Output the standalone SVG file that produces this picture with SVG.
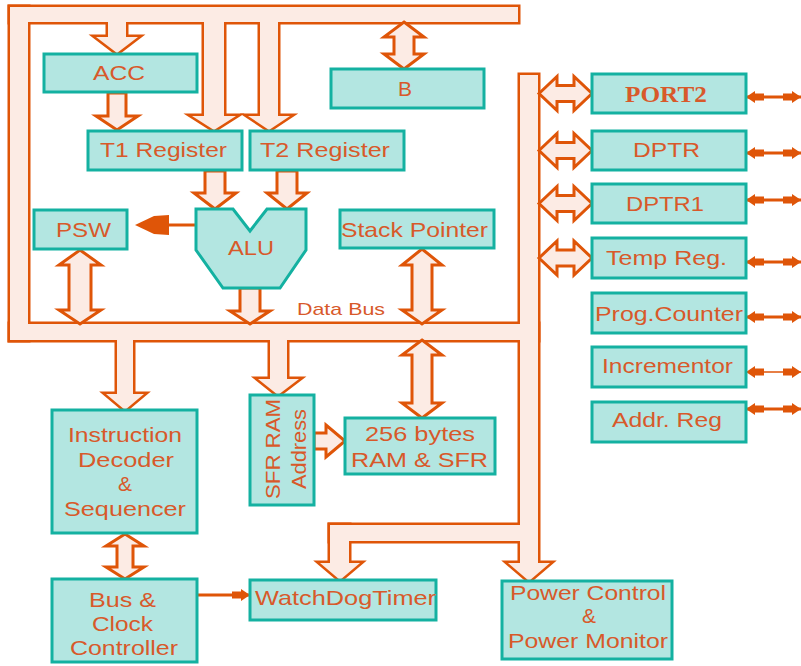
<svg xmlns="http://www.w3.org/2000/svg" xmlns:xlink="http://www.w3.org/1999/xlink" width="801" height="666" viewBox="0 0 801 666">
<style>
.box{fill:#b3e6e1;stroke:#14b1a1;stroke-width:3}
.t{font-family:"Liberation Sans",Arial,sans-serif;font-size:21px;fill:#d8592a}
.ts{font-family:"Liberation Serif","Times New Roman",serif;font-size:24px;font-weight:bold;fill:#d8592a}
.arr{fill:#fcebe4;stroke:#df5508;stroke-width:3;stroke-linejoin:miter}
.ln{stroke:#df5508;stroke-width:3;fill:none}
</style>
<defs>
<marker id="tip" markerUnits="userSpaceOnUse" markerWidth="20" markerHeight="14" refX="18" refY="7" orient="auto-start-reverse">
<path d="M18,7 L9,1 L9,3.5 L0,3.5 L0,10.5 L9,10.5 L9,13 Z" fill="#df5508"/>
</marker>
<g id="busShape">
<rect x="10" y="7" width="508" height="15"/>
<rect x="10" y="7" width="18" height="333"/>
<rect x="10" y="324" width="528" height="16"/>
<rect x="520" y="75" width="18" height="488"/>
<polygon points="508,563 550,563 529,581"/>
<rect x="330" y="525" width="190" height="16"/>
<rect x="330" y="525" width="19" height="38"/>
<polygon points="320,563 360,563 340,580"/>
<rect x="108" y="10" width="18" height="27"/>
<polygon points="96,37 138,37 117,53"/>
<rect x="204" y="10" width="20" height="106"/>
<polygon points="192,116 236,116 214,130"/>
<rect x="260" y="10" width="18" height="106"/>
<polygon points="248,116 290,116 269,130"/>
<rect x="117" y="330" width="16" height="64"/>
<polygon points="106,394 144,394 125,410"/>
<rect x="270" y="330" width="17" height="49"/>
<polygon points="258,379 299,379 278,395"/>
</g>
</defs>
<rect width="801" height="666" fill="#ffffff"/>
<g id="connectors">
<use href="#busShape" fill="#df5508" stroke="#df5508" stroke-width="5"/>
<use href="#busShape" fill="#fcebe4"/>
<text class="t" x="297" y="315" style="font-size:17px" textLength="88" lengthAdjust="spacingAndGlyphs">Data Bus</text>
<polygon class="arr" points="108,93 126,93 126,116 138,116 117,130 96,116 108,116"/>
<polygon class="arr" points="205,171 225,171 225,193 236,193 215,209 194,193 205,193"/>
<polygon class="arr" points="277,171 297,171 297,193 307,193 287,209 267,193 277,193"/>
<polygon class="arr" points="240,288 260,288 260,311 270,311 250,324 230,311 240,311"/>
<polygon class="arr" points="314,433 326,433 326,425 345,441 326,457 326,449 314,449"/>
<polygon class="arr" points="404,22 424,37 414,37 414,54 424,54 404,69 384,54 394,54 394,37 384,37"/>
<polygon class="arr" points="80,250 101,265 91,265 91,310 101,310 80,324 59,310 69,310 69,265 59,265"/>
<polygon class="arr" points="422,249 442,265 432,265 432,310 442,310 422,324 402,310 412,310 412,265 402,265"/>
<polygon class="arr" points="422,340 442,355 432,355 432,403 442,403 422,418 402,403 412,403 412,355 402,355"/>
<polygon class="arr" points="125,534 144,546 133,546 133,567 144,567 125,579 106,567 117,567 117,546 106,546"/>
<polygon class="arr" points="539,93.5 557,76.5 557,85.5 574,85.5 574,76.5 592,93.5 574,110.5 574,101.5 557,101.5 557,110.5"/>
<polygon class="arr" points="539,150.5 557,133.5 557,142.5 574,142.5 574,133.5 592,150.5 574,167.5 574,158.5 557,158.5 557,167.5"/>
<polygon class="arr" points="539,203.5 557,186.5 557,195.5 574,195.5 574,186.5 592,203.5 574,220.5 574,211.5 557,211.5 557,220.5"/>
<polygon class="arr" points="539,258 557,241 557,250 574,250 574,241 592,258 574,275 574,266 557,266 557,275"/>
<line class="ln" x1="196" y1="225" x2="166" y2="225"/>
<polygon points="135,225 154,216 169,215 169,235 154,234" fill="#df5508"/>
<line class="ln" x1="197" y1="595" x2="250" y2="595" marker-end="url(#tip)"/>
<line class="ln" x1="746" y1="97" x2="801" y2="97" marker-start="url(#tip)" marker-end="url(#tip)"/>
<line class="ln" x1="746" y1="153" x2="801" y2="153" marker-start="url(#tip)" marker-end="url(#tip)"/>
<line class="ln" x1="746" y1="200" x2="801" y2="200" marker-start="url(#tip)" marker-end="url(#tip)"/>
<line class="ln" x1="746" y1="262" x2="801" y2="262" marker-start="url(#tip)" marker-end="url(#tip)"/>
<line class="ln" x1="746" y1="317" x2="801" y2="317" marker-start="url(#tip)" marker-end="url(#tip)"/>
<line class="ln" x1="746" y1="372" x2="801" y2="372" style="stroke-width:1.5" marker-start="url(#tip)" marker-end="url(#tip)"/>
<line class="ln" x1="746" y1="409" x2="801" y2="409" marker-start="url(#tip)" marker-end="url(#tip)"/>
</g>
<g id="acc"><rect class="box" x="44" y="54" width="153" height="38"/><text class="t" x="93" y="80" textLength="52" lengthAdjust="spacingAndGlyphs">ACC</text></g>
<g id="b"><rect class="box" x="331" y="69" width="153" height="39"/><text class="t" x="405" y="96" text-anchor="middle">B</text></g>
<g id="t1"><rect class="box" x="88" y="131" width="154" height="39"/><text class="t" x="100" y="157" textLength="127" lengthAdjust="spacingAndGlyphs">T1 Register</text></g>
<g id="t2"><rect class="box" x="250" y="131" width="154" height="39"/><text class="t" x="260" y="157" textLength="130" lengthAdjust="spacingAndGlyphs">T2 Register</text></g>
<g id="psw"><rect class="box" x="34" y="210" width="93" height="39"/><text class="t" x="56" y="237" textLength="55" lengthAdjust="spacingAndGlyphs">PSW</text></g>
<g id="alu"><polygon class="box" points="196,209 233,209 250,231 267,209 306,209 306,250 280,288 223,288 196,250"/><text class="t" x="228" y="255" textLength="46" lengthAdjust="spacingAndGlyphs">ALU</text></g>
<g id="sp"><rect class="box" x="340" y="210" width="154" height="38"/><text class="t" x="341" y="237" textLength="147" lengthAdjust="spacingAndGlyphs">Stack Pointer</text></g>
<g id="port2"><rect class="box" x="592" y="74" width="154" height="39"/><text class="ts" x="625" y="102" textLength="82" lengthAdjust="spacingAndGlyphs">PORT2</text></g>
<g id="dptr"><rect class="box" x="592" y="131" width="154" height="39"/><text class="t" x="633" y="157" textLength="67" lengthAdjust="spacingAndGlyphs">DPTR</text></g>
<g id="dptr1"><rect class="box" x="592" y="184" width="154" height="39"/><text class="t" x="626" y="211" textLength="78" lengthAdjust="spacingAndGlyphs">DPTR1</text></g>
<g id="temp"><rect class="box" x="592" y="238" width="154" height="40"/><text class="t" x="606" y="265" textLength="121" lengthAdjust="spacingAndGlyphs">Temp Reg.</text></g>
<g id="pc"><rect class="box" x="592" y="293" width="154" height="40"/><text class="t" x="595" y="321" textLength="148" lengthAdjust="spacingAndGlyphs">Prog.Counter</text></g>
<g id="inc"><rect class="box" x="592" y="347" width="154" height="40"/><text class="t" x="602" y="373" textLength="131" lengthAdjust="spacingAndGlyphs">Incrementor</text></g>
<g id="addr"><rect class="box" x="592" y="402" width="154" height="40"/><text class="t" x="612" y="427" textLength="110" lengthAdjust="spacingAndGlyphs">Addr. Reg</text></g>
<g id="decoder"><rect class="box" x="52" y="410" width="145" height="123"/>
<text class="t" x="68" y="442" textLength="114" lengthAdjust="spacingAndGlyphs">Instruction</text>
<text class="t" x="78" y="467" textLength="96" lengthAdjust="spacingAndGlyphs">Decoder</text>
<text class="t" x="125" y="491" text-anchor="middle">&amp;</text>
<text class="t" x="64" y="516" textLength="122" lengthAdjust="spacingAndGlyphs">Sequencer</text></g>
<g id="sfr"><rect class="box" x="250" y="395" width="64" height="110"/>
<text class="t" transform="translate(280,449) rotate(-90)" text-anchor="middle" textLength="100" lengthAdjust="spacingAndGlyphs">SFR RAM</text>
<text class="t" transform="translate(306,449) rotate(-90)" text-anchor="middle" textLength="80" lengthAdjust="spacingAndGlyphs">Address</text></g>
<g id="ram"><rect class="box" x="345" y="418" width="150" height="56"/>
<text class="t" x="365" y="441" textLength="110" lengthAdjust="spacingAndGlyphs">256 bytes</text>
<text class="t" x="351" y="467" textLength="137" lengthAdjust="spacingAndGlyphs">RAM &amp; SFR</text></g>
<g id="busclock"><rect class="box" x="52" y="579" width="145" height="83"/>
<text class="t" x="89" y="607" textLength="67" lengthAdjust="spacingAndGlyphs">Bus &amp;</text>
<text class="t" x="92" y="631" textLength="61" lengthAdjust="spacingAndGlyphs">Clock</text>
<text class="t" x="70" y="655" textLength="108" lengthAdjust="spacingAndGlyphs">Controller</text></g>
<g id="wdt"><rect class="box" x="250" y="580" width="186" height="40"/><text class="t" x="255" y="605" textLength="181" lengthAdjust="spacingAndGlyphs">WatchDogTimer</text></g>
<g id="power"><rect class="box" x="502" y="581" width="170" height="78"/>
<text class="t" x="510" y="600" textLength="156" lengthAdjust="spacingAndGlyphs">Power Control</text>
<text class="t" x="589" y="623" text-anchor="middle">&amp;</text>
<text class="t" x="508" y="648" textLength="160" lengthAdjust="spacingAndGlyphs">Power Monitor</text></g>
</svg>
